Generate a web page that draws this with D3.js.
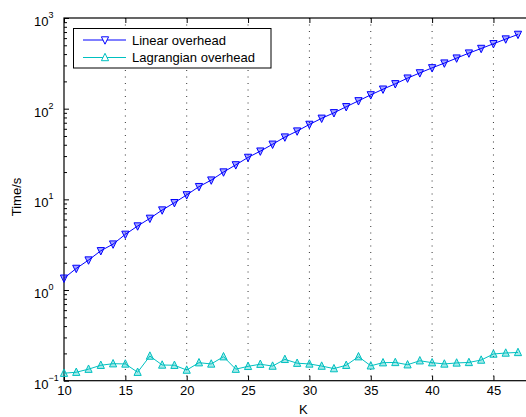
<!DOCTYPE html>
<html>
<head>
<meta charset="utf-8">
<script src="https://cdn.jsdelivr.net/npm/d3@7"></script>
<style>
body { margin: 0; background: #fff; }
svg { display: block; font-family: "Liberation Sans", Arial, sans-serif; }
</style>
</head>
<body>
<div id="chart"></div>
<script>
// K values and timings (seconds)
var kValues = [10,11,12,13,14,15,16,17,18,19,20,21,22,23,24,25,26,27,28,29,30,31,32,33,34,35,36,37,38,39,40,41,42,43,44,45,46,47];
var linearTime = [1.35,1.73,2.14,2.71,3.21,4.11,5.08,6.17,7.62,9.18,11.2,13.8,16.3,20,24,29,34,40.5,48.6,56.6,67,78.3,90,105,122,142,164,188,217,248,282,318,361,410,461,520,586,659];
var lagrangianTime = [0.121,0.124,0.134,0.148,0.154,0.153,0.124,0.187,0.149,0.148,0.131,0.158,0.153,0.184,0.134,0.144,0.152,0.145,0.172,0.156,0.153,0.145,0.136,0.148,0.184,0.146,0.158,0.159,0.150,0.166,0.158,0.153,0.157,0.159,0.169,0.197,0.202,0.205];
var xTicks = [10,15,20,25,30,35,40,45];
var yTicks = [0.1,1,10,100,1000];
var seriesNames = ["Linear overhead", "Lagrangian overhead"];

var width = 526, height = 417;
var plotLeft = 64, plotTop = 18, plotBottom = 380.7;

var svg = d3.select("#chart").append("svg")
    .attr("width", width)
    .attr("height", height);

var x = d3.scaleLinear().domain([10, 50]).range([plotLeft, plotLeft + 40 * 12.27]);
var y = d3.scaleLog().domain([0.1, 1000]).range([plotBottom, plotTop]);

// minor log ticks
var minor = [];
for (var e = -1; e < 3; e++) {
    for (var m = 2; m <= 9; m++) minor.push(m * Math.pow(10, e));
}

// vertical dotted grid
svg.append("g").selectAll("line")
    .data(xTicks.filter(function(d) { return d > 10; }))
    .enter().append("line")
    .attr("x1", function(d) { return x(d); })
    .attr("x2", function(d) { return x(d); })
    .attr("y1", plotTop)
    .attr("y2", plotBottom)
    .attr("stroke", "#333")
    .attr("stroke-width", 1)
    .attr("stroke-dasharray", "1,5.5");

// box
svg.append("rect")
    .attr("x", plotLeft).attr("y", plotTop)
    .attr("width", x(50) - plotLeft).attr("height", plotBottom - plotTop)
    .attr("fill", "none").attr("stroke", "#000").attr("stroke-width", 1.2);

// x axis bottom
var xAxis = svg.append("g")
    .attr("transform", "translate(0," + plotBottom + ")")
    .call(d3.axisBottom(x).tickValues(xTicks).tickSizeInner(-5).tickSizeOuter(0).tickPadding(5));
xAxis.select(".domain").remove();
xAxis.attr("font-size", 13).attr("font-family", "Liberation Sans, Arial");
xAxis.selectAll("text").attr("fill", "#000");

// x axis top (ticks only)
var xTop = svg.append("g")
    .attr("transform", "translate(0," + plotTop + ")")
    .call(d3.axisTop(x).tickValues(xTicks).tickSizeInner(-5).tickSizeOuter(0).tickFormat(""));
xTop.select(".domain").remove();

// y axis
var yAxis = svg.append("g")
    .attr("transform", "translate(" + plotLeft + ",0)")
    .call(d3.axisLeft(y).tickValues(yTicks).tickSizeInner(-5).tickSizeOuter(0).tickFormat(""));
yAxis.select(".domain").remove();
var yMinor = svg.append("g")
    .attr("transform", "translate(" + plotLeft + ",0)")
    .call(d3.axisLeft(y).tickValues(minor).tickSizeInner(-3).tickSizeOuter(0).tickFormat(""));
yMinor.select(".domain").remove();

var yLab = svg.append("g").selectAll("text")
    .data(yTicks)
    .enter().append("text")
    .attr("x", 34)
    .attr("y", function(d) { return y(d) + 8; })
    .attr("font-size", 13)
    .attr("fill", "#000");
yLab.append("tspan").text("10");
yLab.append("tspan")
    .attr("font-size", 9)
    .attr("dy", -8)
    .text(function(d) { return String(Math.round(Math.log10(d))).replace("-", "\u2212"); });

// axis titles
svg.append("text")
    .attr("x", x(29.5)).attr("y", 414)
    .attr("text-anchor", "middle").attr("font-size", 13)
    .text("K");
svg.append("text")
    .attr("transform", "translate(21," + 197 + ") rotate(-90)")
    .attr("text-anchor", "middle").attr("font-size", 13)
    .text("Time/s");

var colors = ["#0000ff", "#00c0c0"];
svg.append("clipPath").attr("id", "clip")
    .append("rect").attr("x", plotLeft - 6).attr("y", plotTop - 6).attr("width", width).attr("height", plotBottom - plotTop + 12);

function triPath(down) {
    var w = 3.6, h = 3.2;
    return down ? "M" + (-w) + "," + (-h) + "L" + w + "," + (-h) + "L0," + (h + 1) + "Z"
                : "M" + (-w) + "," + h + "L" + w + "," + h + "L0," + (-h - 1) + "Z";
}

var series = [linearTime, lagrangianTime];
var line = d3.line()
    .x(function(d, i) { return x(kValues[i]); })
    .y(function(d) { return y(d); });

series.forEach(function(vals, s) {
    var g = svg.append("g").attr("clip-path", "url(#clip)");
    g.append("path")
        .datum(vals)
        .attr("d", line)
        .attr("fill", "none")
        .attr("stroke", colors[s])
        .attr("stroke-width", 1);
    g.selectAll("path.m")
        .data(vals)
        .enter().append("path")
        .attr("class", "m")
        .attr("d", triPath(s === 0))
        .attr("transform", function(d, i) { return "translate(" + x(kValues[i]) + "," + y(d) + ")"; })
        .attr("fill", colors[s])
        .attr("fill-opacity", 0.35)
        .attr("stroke", colors[s])
        .attr("stroke-width", 1);
});

// legend
var lg = svg.append("g");
lg.append("rect")
    .attr("x", 73.5).attr("y", 28.5)
    .attr("width", 197.5).attr("height", 39.5)
    .attr("fill", "#fff").attr("stroke", "#000").attr("stroke-width", 1);
seriesNames.forEach(function(name, s) {
    var ly = 40 + s * 17.5;
    lg.append("line")
        .attr("x1", 83).attr("x2", 126)
        .attr("y1", ly).attr("y2", ly)
        .attr("stroke", colors[s]).attr("stroke-width", 1);
    lg.append("path")
        .attr("d", triPath(s === 0))
        .attr("transform", "translate(105," + ly + ")")
        .attr("fill", "#fff")
        .attr("stroke", colors[s]).attr("stroke-width", 1);
    lg.append("text")
        .attr("x", 132).attr("y", ly + 4.5)
        .attr("font-size", 13)
        .text(name);
});
</script>
</body>
</html>
